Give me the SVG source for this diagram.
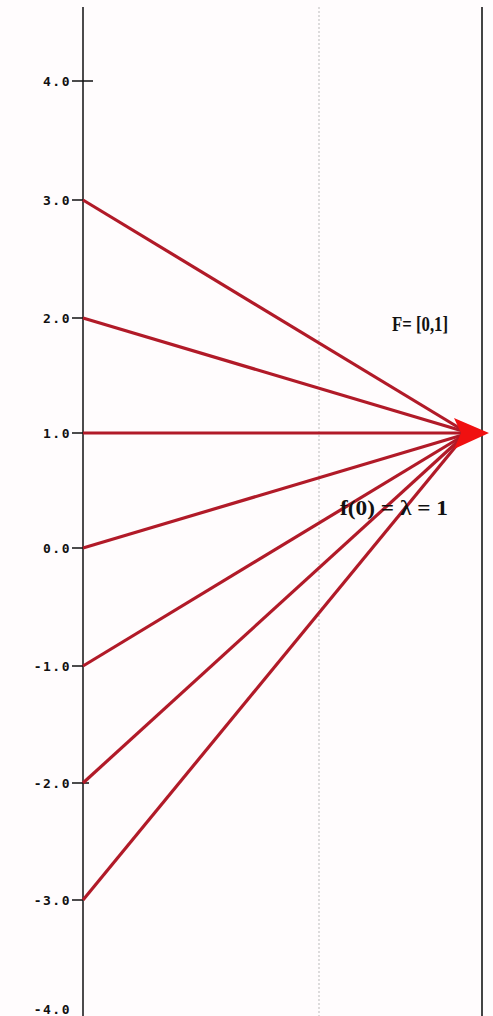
<svg xmlns="http://www.w3.org/2000/svg" width="493" height="1016" viewBox="0 0 493 1016">
<style>
.axis{stroke:#111;stroke-width:1.5;fill:none}
.tick{stroke:#111;stroke-width:1.5}
.lbl{font-family:"DejaVu Sans Mono","Liberation Mono",monospace;font-weight:bold;font-size:13px;fill:#111;text-anchor:end;letter-spacing:1.5px}
.ray{stroke:#b11a28;stroke-width:3.2;fill:none}
.note{font-family:"Liberation Serif",serif;font-weight:bold;font-size:21px;fill:#111}
</style>
<rect width="493" height="1016" fill="#fffcfd"/>
<g id="axes">
<line class="axis" x1="83" y1="7" x2="83" y2="1016"/>
<line x1="482" y1="7" x2="482" y2="1016" style="stroke:#444;stroke-width:2"/>
<line x1="319" y1="7" x2="319" y2="1016" stroke="#bbb" stroke-width="1" stroke-dasharray="2,2"/>
</g>
<g id="ticks">
<line class="tick" x1="72" y1="81" x2="93" y2="81"/>
<line class="tick" x1="72" y1="200" x2="83" y2="200"/>
<line class="tick" x1="72" y1="318" x2="83" y2="318"/>
<line class="tick" x1="72" y1="433" x2="83" y2="433"/>
<line class="tick" x1="72" y1="548" x2="83" y2="548"/>
<line class="tick" x1="72" y1="666" x2="83" y2="666"/>
<line class="tick" x1="72" y1="783" x2="89" y2="783"/>
<line class="tick" x1="72" y1="900" x2="83" y2="900"/>
</g>
<g id="labels">
<text class="lbl" x="71" y="86">4.0</text>
<text class="lbl" x="71" y="205">3.0</text>
<text class="lbl" x="71" y="323">2.0</text>
<text class="lbl" x="71" y="438">1.0</text>
<text class="lbl" x="71" y="553">0.0</text>
<text class="lbl" x="71" y="671">-1.0</text>
<text class="lbl" x="71" y="788">-2.0</text>
<text class="lbl" x="71" y="905">-3.0</text>
<text class="lbl" x="71" y="1014">-4.0</text>
</g>
<g id="connectors">
<line class="ray" x1="83" y1="200" x2="466" y2="432"/>
<line class="ray" x1="83" y1="318" x2="466" y2="432"/>
<line class="ray" x1="83" y1="433" x2="466" y2="433"/>
<line class="ray" x1="83" y1="548" x2="466" y2="434"/>
<line class="ray" x1="83" y1="666" x2="466" y2="434"/>
<line class="ray" x1="83" y1="783" x2="466" y2="434"/>
<line class="ray" x1="83" y1="900" x2="466" y2="434"/>
<polygon points="454,418 489,433 454,449 461,433" fill="#f01010"/>
</g>
<g id="notes">
<text class="note" x="392" y="331" textLength="56" lengthAdjust="spacingAndGlyphs">F= [0,1]</text>
<text class="note" x="340" y="515" textLength="108" lengthAdjust="spacingAndGlyphs">f(0) = λ = 1</text>
</g>
</svg>
